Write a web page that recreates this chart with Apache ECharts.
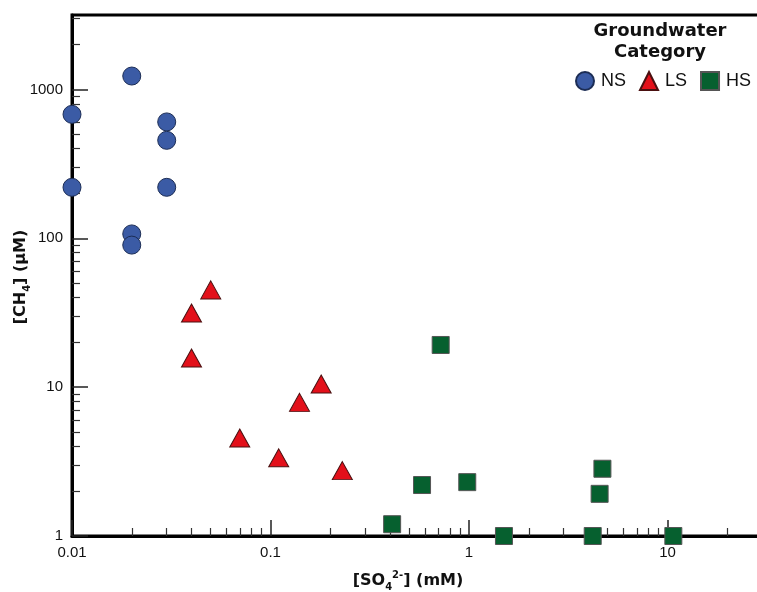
<!DOCTYPE html>
<html>
<head>
<meta charset="utf-8">
<script src="https://cdn.jsdelivr.net/npm/echarts@6/dist/echarts.min.js"></script>
<style>html,body{margin:0;padding:0;background:#fff}#c{width:757px;height:592px}</style>
</head>
<body>
<div id="c"></div>
<script>
// ---- data ----
var nsX = [0.01, 0.01, 0.02, 0.02, 0.02, 0.03, 0.03, 0.03];
var nsY = [680, 220, 1230, 107, 90, 605, 455, 220];
var lsX = [0.04, 0.04, 0.05, 0.07, 0.11, 0.14, 0.18, 0.23];
var lsY = [31.5, 15.7, 45, 4.55, 3.35, 7.9, 10.5, 2.75];
var hsX = [0.41, 0.58, 0.72, 0.98, 1.5, 4.2, 4.55, 4.7, 10.7];
var hsY = [1.2, 2.2, 19.2, 2.3, 1.0, 1.0, 1.92, 2.83, 1.0];
var xMajor = [0.01, 0.1, 1, 10, 100];
var yMajor = [1, 10, 100, 1000];
var xMinor = [0.02,0.03,0.04,0.05,0.06,0.07,0.08,0.09,0.2,0.3,0.4,0.5,0.6,0.7,0.8,0.9,2,3,4,5,6,7,8,9,20,30,40,50,60,70,80,90];
var yMinor = [2,3,4,5,6,7,8,9,20,30,40,50,60,70,80,90,200,300,400,500,600,700,800,900,2000,3000];
var xRange = [0.01, 100];
var yRange = [1, 3162.2777];
var seriesNames = ['NS', 'LS', 'HS'];

function pairs(xs, ys) { return xs.map(function (x, i) { return [x, ys[i]]; }); }
function fmt(v) { return String(Number(Number(v).toPrecision(6))); }

var chart = echarts.init(document.getElementById('c'), null, {renderer: 'canvas'});
var tickFont = {fontFamily: 'Liberation Sans, Arial, sans-serif', fontSize: 15, color: '#111'};

chart.setOption({
  animation: false,
  backgroundColor: '#fff',
  grid: {left: 72, top: 15, width: 794, height: 521, show: true, borderColor: '#000', borderWidth: 3,
         backgroundColor: 'transparent', outerBoundsMode: 'none', containLabel: false},
  xAxis: [
    {type: 'log', logBase: 10, min: xRange[0], max: xRange[1], position: 'bottom',
     axisLine: {show: true, lineStyle: {color: '#000', width: 3}},
     axisTick: {show: true, inside: true, length: 16, customValues: xMajor, lineStyle: {color: '#222', width: 1.5}},
     axisLabel: {show: true, margin: 9, customValues: xMajor, formatter: fmt, textStyle: tickFont},
     splitLine: {show: false}, minorTick: {show: false}},
    {type: 'log', logBase: 10, min: xRange[0], max: xRange[1], position: 'bottom', offset: 0,
     axisLine: {show: false},
     axisTick: {show: true, inside: true, length: 8, customValues: xMinor, lineStyle: {color: '#333', width: 1.2}},
     axisLabel: {show: false}, splitLine: {show: false}}
  ],
  yAxis: [
    {type: 'log', logBase: 10, min: yRange[0], max: yRange[1], position: 'left',
     axisLine: {show: true, lineStyle: {color: '#000', width: 3}},
     axisTick: {show: true, inside: true, length: 16, customValues: yMajor, lineStyle: {color: '#222', width: 1.5}},
     axisLabel: {show: true, margin: 9, customValues: yMajor, formatter: fmt, textStyle: tickFont},
     splitLine: {show: false}, minorTick: {show: false}},
    {type: 'log', logBase: 10, min: yRange[0], max: yRange[1], position: 'left', offset: 0,
     axisLine: {show: false},
     axisTick: {show: true, inside: true, length: 8, customValues: yMinor, lineStyle: {color: '#333', width: 1.2}},
     axisLabel: {show: false}, splitLine: {show: false}}
  ],
  legend: {
    show: true, left: 575, top: 71, orient: 'horizontal', padding: 0, width: 240,
    itemWidth: 18, itemHeight: 18, itemGap: 13,
    data: [
      {name: seriesNames[0], icon: 'circle'},
      {name: seriesNames[1], icon: 'triangle'},
      {name: seriesNames[2], icon: 'rect'}
    ],
    textStyle: {fontFamily: 'Liberation Sans, Arial, sans-serif', fontSize: 18, color: '#111', padding: [0, 0, 0, 2]}
  },
  graphic: [
    {type: 'text', x: 660, y: 42, z: 10,
     style: {text: 'Groundwater\nCategory', align: 'center', verticalAlign: 'middle', lineHeight: 21,
             font: 'bold 18px "DejaVu Sans", sans-serif', fill: '#111'}},
    {type: 'text', x: 408, y: 581, z: 10,
     style: {text: '{b|[SO}{sub|4}{sup|2-}{b|] (mM)}', align: 'center', verticalAlign: 'middle',
             rich: {
               b: {fontFamily: 'DejaVu Sans', fontWeight: 'bold', fontSize: 16, lineHeight: 22, fill: '#111', color: '#111'},
               sub: {fontFamily: 'DejaVu Sans', fontWeight: 'bold', fontSize: 10, lineHeight: 22, verticalAlign: 'bottom', color: '#111', fill: '#111'},
               sup: {fontFamily: 'DejaVu Sans', fontWeight: 'bold', fontSize: 10, lineHeight: 22, verticalAlign: 'top', color: '#111', fill: '#111'}
             }}},
    {type: 'text', x: 21, y: 277, rotation: Math.PI / 2, z: 10,
     style: {text: '{b|[CH}{sub|4}{b|] (μM)}', align: 'center', verticalAlign: 'middle',
             rich: {
               b: {fontFamily: 'DejaVu Sans', fontWeight: 'bold', fontSize: 16, lineHeight: 22, color: '#111', fill: '#111'},
               sub: {fontFamily: 'DejaVu Sans', fontWeight: 'bold', fontSize: 10, lineHeight: 22, verticalAlign: 'bottom', color: '#111', fill: '#111'}
             }}}
  ],
  series: [
    {name: seriesNames[0], type: 'scatter', xAxisIndex: 0, yAxisIndex: 0, clip: false,
     symbol: 'circle', symbolSize: 18, data: pairs(nsX, nsY),
     itemStyle: {color: '#3B5BA5', borderColor: '#1c2d55', borderWidth: 1, opacity: 1}},
    {name: seriesNames[1], type: 'scatter', xAxisIndex: 0, yAxisIndex: 0, clip: false,
     symbol: 'triangle', symbolSize: [20, 18], data: pairs(lsX, lsY),
     itemStyle: {color: '#E3101A', borderColor: '#4a1010', borderWidth: 1, opacity: 1}},
    {name: seriesNames[2], type: 'scatter', xAxisIndex: 0, yAxisIndex: 0, clip: false,
     symbol: 'rect', symbolSize: 17, data: pairs(hsX, hsY),
     itemStyle: {color: '#06602F', borderColor: '#555', borderWidth: 1, opacity: 1}}
  ]
});
</script>
</body>
</html>
